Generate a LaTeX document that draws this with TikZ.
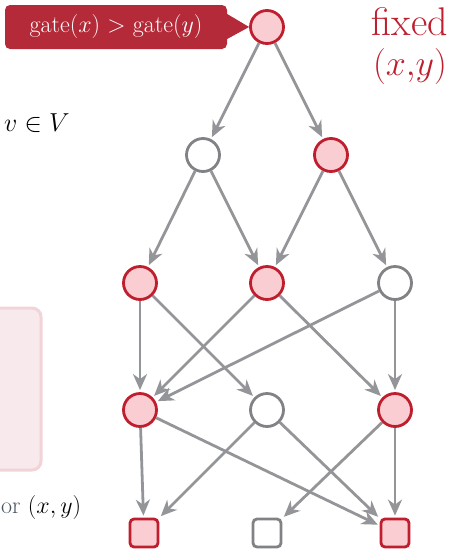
\RequirePackage{fix-cm}
\documentclass[tikz,border=0pt]{standalone}
\usepackage{amsmath}
\usepackage{amssymb}
\usetikzlibrary{arrows.meta}

\definecolor{rouge}{HTML}{BE1E2D}
\definecolor{rose}{HTML}{F9CDD1}
\definecolor{gris}{HTML}{939598}
\definecolor{grisfonce}{HTML}{808285}
\definecolor{bordeaux}{HTML}{B42A38}
\definecolor{rosepale}{HTML}{F8EAEC}
\definecolor{rosebord}{HTML}{F2D3D8}
\definecolor{ardoise}{HTML}{4A5560}

\begin{document}
\begin{tikzpicture}[
    x=1pt, y=-1pt,
    fixe/.style={circle, draw=rouge, fill=rose, line width=2.8pt, minimum size=33pt, inner sep=0pt},
    libre/.style={circle, draw=grisfonce, fill=white, line width=2.8pt, minimum size=33pt, inner sep=0pt},
    fixecarre/.style={rectangle, rounded corners=4pt, draw=rouge, fill=rose, line width=2.8pt, minimum size=28pt, inner sep=0pt},
    librecarre/.style={rectangle, rounded corners=4pt, draw=grisfonce, fill=white, line width=2.8pt, minimum size=28pt, inner sep=0pt},
    fleche/.style={draw=gris, line width=2.8pt, shorten >=2pt,
      -{Stealth[length=16pt, width=14pt, inset=5pt]}},
  ]
  \useasboundingbox (0,0) rectangle (456,550);

  % morceaux coupés à gauche
  \draw[rosebord, fill=rosepale, line width=3pt, rounded corners=9pt]
    (-20,308) rectangle (41,470);
  \node[anchor=base west, inner sep=0pt, font=\fontsize{26}{30}\selectfont] (appartient) at (4,131) {$v \in V$};
  \node[anchor=base west, inner sep=0pt, font=\fontsize{24}{28}\selectfont, text=ardoise] (pourxy) at (1,513)
    {or \textcolor{black}{$(x,y)$}};

  % sommets
  \node[fixe]  (s)  at (267,27)  {};
  \node[libre] (a1) at (203,155) {};
  \node[fixe]  (b1) at (331,155) {};
  \node[fixe]  (a2) at (140,283) {};
  \node[fixe]  (b2) at (267,283) {};
  \node[libre] (c2) at (395,283) {};
  \node[fixe]  (a3) at (140,410) {};
  \node[libre] (b3) at (267,410) {};
  \node[fixe]  (c3) at (395,410) {};
  \node[fixecarre]  (a4) at (144,533) {};
  \node[librecarre] (b4) at (267,533) {};
  \node[fixecarre]  (c4) at (395,533) {};

  % arcs
  \foreach \u/\v in {s/a1, s/b1, a1/a2, a1/b2, b1/b2, b1/c2,
                     a2/a3, a2/b3, b2/a3, b2/c3, c2/a3, c2/c3,
                     a3/a4, a3/c4, b3/a4, b3/c4, c3/b4, c3/c4}
    \draw[fleche] (\u) -- (\v);

  % bulle
  \node[fill=bordeaux, rounded corners=5pt, minimum width=222pt, minimum height=44pt,
        text=white, font=\fontsize{24}{28}\selectfont] (bulle) at (116,27)
    {gate($x$) $>$ gate($y$)};
  \fill[bordeaux] ([yshift=13pt]bulle.east) -- (s.west) -- ([yshift=-12pt]bulle.east) -- cycle;

  \node[text=rouge, align=center, inner sep=0pt, font=\fontsize{40}{46}\selectfont] (fixexy) at (410,46)
    {fixed\\[-6pt]\fontsize{36}{40}\selectfont$(x{,}y)$};
\end{tikzpicture}
\end{document}
